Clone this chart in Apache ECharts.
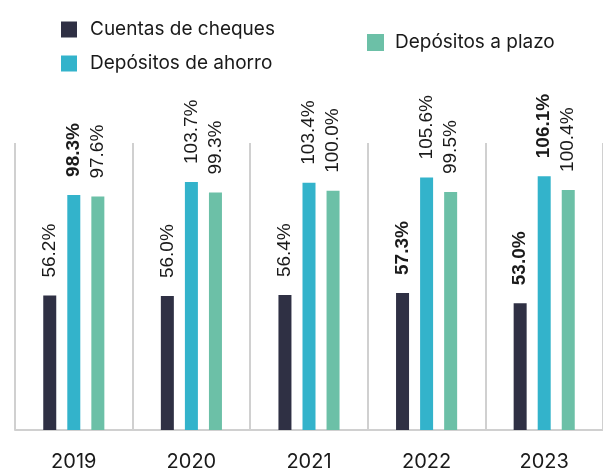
<!DOCTYPE html>
<html>
<head>
<meta charset="utf-8">
<script src="https://cdn.jsdelivr.net/npm/echarts@6/dist/echarts.min.js"></script>
<style>
  html, body { margin: 0; padding: 0; background: #fff; }
  #chart { width: 603px; height: 472px; }
</style>
</head>
<body>
<div id="chart"></div>
<script>
var years = ['2019', '2020', '2021', '2022', '2023']
var cheques = [56.2, 56.0, 56.4, 57.3, 53.0]
var ahorro = [98.3, 103.7, 103.4, 105.6, 106.1]
var plazo = [97.6, 99.3, 100.0, 99.5, 100.4]
// which values are shown in bold
var boldCheques = [3, 4]
var boldAhorro = [0, 4]
var boldPlazo = []

function withBold(values, boldIdx) {
  return values.map(function (v, i) {
    if (boldIdx.indexOf(i) < 0) return v
    return { value: v, label: { fontWeight: 'bold' } }
  })
}

var chart = echarts.init(document.getElementById('chart'))

var barLabel = {
  show: true,
  position: 'top',
  rotate: 90,
  align: 'left',
  verticalAlign: 'middle',
  distance: 18,
  fontFamily: 'Liberation Sans',
  fontSize: 19,
  color: '#1a1a1a',
  formatter: function (p) { return p.value.toFixed(1) + '%' }
}

chart.setOption({
  animation: false,
  legend: [{
    data: ['Cuentas de cheques', 'Depósitos de ahorro'],
    orient: 'vertical',
    left: 56,
    top: 15,
    itemWidth: 16,
    itemHeight: 16,
    itemGap: 15,
    icon: 'rect',
    textStyle: { fontFamily: 'Inter', fontSize: 19, color: '#1a1a1a', padding: [0, 0, 0, 8] }
  }, {
    data: ['Depósitos a plazo'],
    left: 362,
    top: 28,
    itemWidth: 17,
    itemHeight: 17,
    icon: 'rect',
    textStyle: { fontFamily: 'Inter', fontSize: 19, color: '#1a1a1a', padding: [0, 0, 0, 6] }
  }],
  grid: {
    left: 15,
    width: 600,
    top: 143,
    height: 294
  },
  xAxis: {
    type: 'category',
    data: years,
    axisLine: { lineStyle: { color: '#d0d0d0', width: 2 } },
    axisTick: { show: false },
    axisLabel: { margin: 22, fontFamily: 'Inter', fontSize: 20, color: '#1a1a1a' },
    splitLine: { show: true, lineStyle: { color: '#d0d0d0', width: 2 } }
  },
  yAxis: {
    type: 'value',
    min: 0,
    max: 120,
    show: false
  },
  series: [{
    name: 'Cuentas de cheques',
    type: 'bar',
    barWidth: 13,
    barGap: '85%',
    itemStyle: { color: '#2f3044' },
    label: barLabel,
    data: withBold(cheques, boldCheques)
  }, {
    name: 'Depósitos de ahorro',
    type: 'bar',
    barWidth: 13,
    barGap: '85%',
    itemStyle: { color: '#33b3cb' },
    label: barLabel,
    data: withBold(ahorro, boldAhorro)
  }, {
    name: 'Depósitos a plazo',
    type: 'bar',
    barWidth: 13,
    barGap: '85%',
    itemStyle: { color: '#6cc0a7' },
    label: barLabel,
    data: withBold(plazo, boldPlazo)
  }]
})
</script>
</body>
</html>
